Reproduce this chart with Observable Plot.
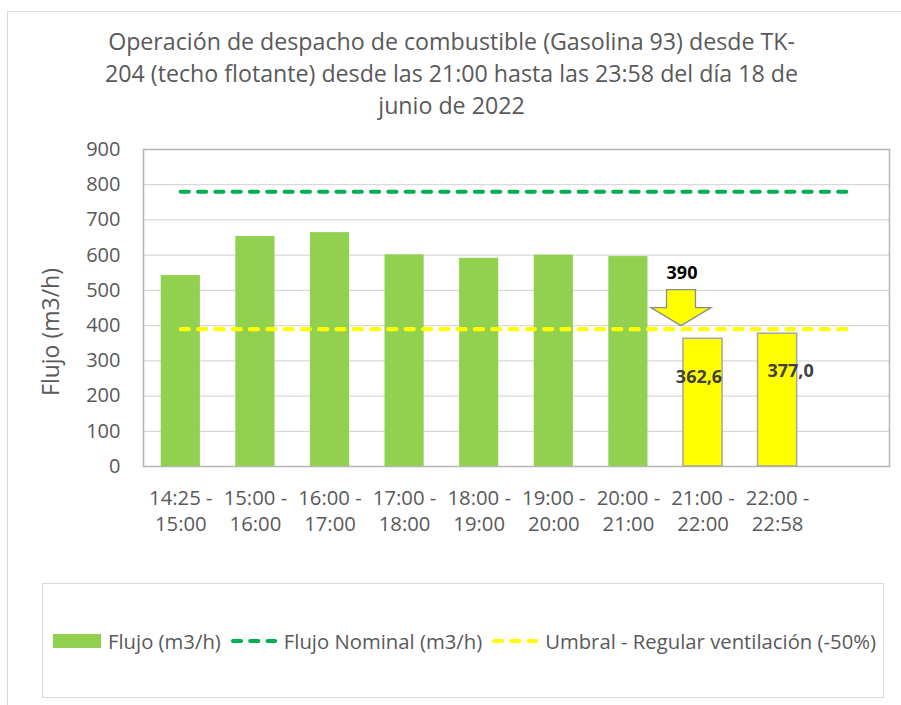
<!DOCTYPE html>
<html>
<head>
<meta charset="utf-8">
<script src="https://cdn.jsdelivr.net/npm/d3@7"></script>
<script src="https://cdn.jsdelivr.net/npm/@observablehq/plot@0.6"></script>
<style>
  html, body { margin: 0; padding: 0; background: #fff; }
  #wrap { position: relative; width: 901px; height: 705px; overflow: hidden; font-family: "Open Sans", Lato, sans-serif; color: #595959; }
  #border { position: absolute; left: 7px; top: 11px; width: 910px; height: 710px; border: 1.5px solid #d9d9d9; box-sizing: border-box; }
  #title { position: absolute; left: 0; width: 903px; top: 25px; text-align: center; font-size: 23.2px; line-height: 32px; color: #595959; }
  #chart { position: absolute; left: 0; top: 140px; }
  #ylabel { position: absolute; left: 50px; top: 332px; transform: translate(-50%, -50%) rotate(-90deg); font-size: 23px; white-space: nowrap; color: #595959; }
  #legend { position: absolute; left: 42px; top: 583px; width: 842px; height: 115px; border: 1.5px solid #d9d9d9; box-sizing: border-box; }
  #legend .items { position: absolute; left: 10px; top: 43px; display: flex; align-items: center; font-size: 20.3px; white-space: nowrap; color: #595959; }
  .sw { display: inline-block; margin-right: 7px; }
  .item { display: flex; align-items: center; margin-right: 8px; }
</style>
</head>
<body>
<div id="wrap">
  <div id="border"></div>
  <div id="title"></div>
  <div id="chart"></div>
  <div id="ylabel"></div>
  <div id="legend"><div class="items"></div></div>
</div>
<script>
// ---- data ----
const titleLines = [
  "Operación de despacho de combustible (Gasolina 93) desde TK-",
  "204 (techo flotante) desde las 21:00 hasta las 23:58 del día 18 de",
  "junio de 2022"
];
const yTitle = "Flujo (m3/h)";
const categories = ["14:25 - 15:00", "15:00 - 16:00", "16:00 - 17:00", "17:00 - 18:00", "18:00 - 19:00", "19:00 - 20:00", "20:00 - 21:00", "21:00 - 22:00", "22:00 - 22:58", ""];
const flujo = [542, 653, 664, 601, 591, 600, 596, 362.6, 377.0];
const flujoNominal = [780, 780, 780, 780, 780, 780, 780, 780, 780, 780];
const umbral = [390, 390, 390, 390, 390, 390, 390, 390, 390, 390];
const barLabels = ["", "", "", "", "", "", "", "362,6", "377,0"];
const umbralLabel = "390";
const yTicks = [0, 100, 200, 300, 400, 500, 600, 700, 800, 900];
const seriesNames = ["Flujo (m3/h)", "Flujo Nominal (m3/h)", "Umbral - Regular ventilación (-50%)"];

// ---- build ----
const GREEN = "#92d050", NOM = "#00b050", YEL = "#ffff00";
const FONT = "'Open Sans', Lato, sans-serif";
document.getElementById("title").innerHTML = titleLines.map(t => `<div>${t}</div>`).join("");
document.getElementById("ylabel").textContent = yTitle;

const bars = flujo.map((v, i) => ({cat: categories[i], value: v, label: barLabels[i]}));
const nomData = flujoNominal.map((v, i) => ({cat: categories[i], value: v}));
const umbData = umbral.map((v, i) => ({cat: categories[i], value: v}));
const thr = umbral[0];
const arrowAt = [{cat: categories[7], value: thr, label: umbralLabel}];
const lab1 = bars.filter(d => d.label)[0];
const lab2 = bars.filter(d => d.label)[1];

const arrowSymbol = {
  draw(ctx) {
    ctx.moveTo(0, 0);
    ctx.lineTo(30, -18);
    ctx.lineTo(14.5, -18);
    ctx.lineTo(14.5, -36);
    ctx.lineTo(-14.5, -36);
    ctx.lineTo(-14.5, -18);
    ctx.lineTo(-30, -18);
    ctx.closePath();
  }
};

const chart = Plot.plot({
  width: 901,
  height: 400,
  marginLeft: 143,
  marginRight: 12,
  marginTop: 9,
  marginBottom: 74,
  style: {fontFamily: FONT, color: "#595959", background: "transparent", overflow: "visible"},
  x: {domain: categories, paddingInner: 0.475, paddingOuter: 0.2375, round: false, label: null},
  y: {domain: [0, 900], ticks: yTicks, label: null},
  marks: [
    Plot.gridY(yTicks, {stroke: "#d9d9d9", strokeOpacity: 1, strokeWidth: 1.2}),
    Plot.frame({stroke: "#b5b5b5", strokeWidth: 1.5}),
    Plot.axisY(yTicks, {tickSize: 0, tickPadding: 23, fontSize: 20, fill: "#595959", label: null}),
    Plot.axisX({tickSize: 0, tickPadding: 20, fontSize: 20.3, fill: "#595959", lineHeight: 1.28, label: null,
      tickFormat: d => d.replace(" - ", " -\n")}),
    Plot.barY(bars.filter(d => d.value >= thr), {x: "cat", y: "value", fill: GREEN}),
    Plot.barY(bars.filter(d => d.value < thr), {x: "cat", y: "value", fill: YEL, stroke: "#a6a6a6", strokeWidth: 1.5}),
    Plot.lineY(nomData, {x: "cat", y: "value", stroke: NOM, strokeWidth: 4.2, strokeDasharray: "8,9.3", strokeLinecap: "round"}),
    Plot.lineY(umbData, {x: "cat", y: "value", stroke: YEL, strokeWidth: 4.2, strokeDasharray: "8,9.3", strokeLinecap: "round"}),
    Plot.dot(arrowAt, {x: "cat", y: "value", symbol: arrowSymbol, r: 10, fill: YEL, stroke: "#8c8c8c", strokeWidth: 1.3, dx: -22, dy: -3.5}),
    Plot.text(arrowAt, {x: "cat", y: "value", text: "label", dx: -21, dy: -56, fontSize: 18, fontWeight: "bold", fill: "#000"}),
    Plot.text([lab1], {x: "cat", y: "value", text: "label", dx: -4, dy: 38, fontSize: 18, fontWeight: "bold", fill: "#404040"}),
    Plot.text([lab2], {x: "cat", y: "value", text: "label", dx: 13, dy: 38, fontSize: 18, fontWeight: "bold", fill: "#404040"})
  ]
});
document.getElementById("chart").appendChild(chart);

// legend
const items = document.querySelector("#legend .items");
const sw = [
  `<svg class="sw" width="48" height="14"><rect width="48" height="14" fill="${GREEN}"/></svg>`,
  `<svg class="sw" width="48" height="8"><line x1="4" x2="46" y1="4" y2="4" stroke="${NOM}" stroke-width="4.2" stroke-dasharray="8,9.3" stroke-linecap="round"/></svg>`,
  `<svg class="sw" width="48" height="8"><line x1="4" x2="46" y1="4" y2="4" stroke="${YEL}" stroke-width="4.2" stroke-dasharray="8,9.3" stroke-linecap="round"/></svg>`
];
items.innerHTML = seriesNames.map((n, i) => `<span class="item">${sw[i]}<span>${n}</span></span>`).join("");
</script>
</body>
</html>
